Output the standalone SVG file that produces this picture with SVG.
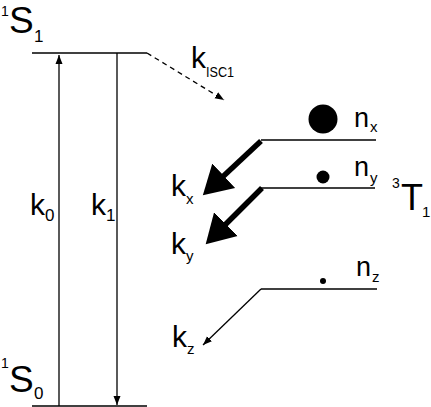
<svg xmlns="http://www.w3.org/2000/svg" width="431" height="407" viewBox="0 0 431 407">
<style>
.lvl{stroke:#000;stroke-width:1.6;fill:none}
.t{font-family:"Liberation Sans",Arial,sans-serif;fill:#000}
.big{font-size:37px}
.k{font-size:30px}
.n{font-size:27px}
.sub{font-size:15px}
.dig{font-size:17px}
.sup{font-size:14px}
.thin{stroke:#000;stroke-width:1.3;fill:none}
.thick{stroke:#000;stroke-width:5.5;fill:none}
</style>
<defs>
<marker id="ah" markerUnits="userSpaceOnUse" markerWidth="12" markerHeight="10" refX="9" refY="4" orient="auto" viewBox="0 0 12 8">
<path d="M0,0.5 L9,4 L0,7.5 z" fill="#000"/>
</marker>
<marker id="bh" markerUnits="userSpaceOnUse" markerWidth="32" markerHeight="36" refX="1" refY="17" orient="auto" viewBox="0 0 32 34">
<path d="M0,0.3 L28.6,17 L0,33.7 z" fill="#000"/>
</marker>
</defs>
<g id="S1">
<line class="lvl" x1="32" y1="53" x2="147" y2="53"/>
<text class="t sup" x="1" y="16">1</text>
<text class="t big" x="9" y="33">S</text>
<text class="t dig" x="34" y="42">1</text>
</g>
<g id="S0">
<line class="lvl" x1="32" y1="406" x2="147" y2="406"/>
<text class="t sup" x="1" y="368">1</text>
<text class="t big" x="9" y="392">S</text>
<text class="t dig" x="34" y="399">0</text>
</g>
<g id="Tx">
<line class="lvl" x1="261" y1="140" x2="376" y2="140"/>
<circle cx="323" cy="119" r="14.5" fill="#000"/>
<text class="t n" x="354" y="127">n</text>
<text class="t sub" x="370" y="132">x</text>
</g>
<g id="Ty">
<line class="lvl" x1="261" y1="188" x2="375" y2="188"/>
<circle cx="323" cy="177" r="6.5" fill="#000"/>
<text class="t n" x="354" y="176">n</text>
<text class="t sub" x="370" y="183">y</text>
</g>
<g id="Tz">
<line class="lvl" x1="261" y1="289" x2="377" y2="289"/>
<circle cx="323" cy="281" r="3" fill="#000"/>
<text class="t n" x="356" y="276">n</text>
<text class="t sub" x="372" y="282">z</text>
</g>
<g id="T1">
<text class="t sup" x="392" y="188">3</text>
<text class="t" style="font-size:36px" x="401" y="210">T</text>
<text class="t sub" x="422" y="217">1</text>
</g>
<g id="labels">
<text class="t k" x="30" y="215">k</text><text class="t dig" x="45" y="221">0</text>
<text class="t k" x="91" y="215">k</text><text class="t dig" x="106" y="221">1</text>
<text class="t k" x="191" y="68">k</text><text class="t" style="font-size:14px" x="206" y="77" textLength="28" lengthAdjust="spacingAndGlyphs">ISC1</text>
<text class="t k" x="171" y="196">k</text><text class="t sub" x="186" y="204">x</text>
<text class="t k" x="171" y="254">k</text><text class="t sub" x="186" y="261">y</text>
<text class="t k" x="172" y="347">k</text><text class="t sub" x="187" y="354">z</text>
</g>
<g id="connectors">
<line class="thin" x1="59" y1="406" x2="59" y2="55" marker-end="url(#ah)"/>
<line class="thin" x1="117" y1="53" x2="117" y2="405" marker-end="url(#ah)"/>
<line class="thin" x1="147" y1="53" x2="224" y2="100" stroke-dasharray="5,4" marker-end="url(#ah)"/>
<line class="thick" x1="261" y1="141" x2="223" y2="176.5" marker-end="url(#bh)"/>
<line class="thick" x1="262" y1="188" x2="225.2" y2="224.8" marker-end="url(#bh)"/>
<line class="thin" x1="261" y1="289" x2="203" y2="345" marker-end="url(#ah)"/>
</g>
</svg>
